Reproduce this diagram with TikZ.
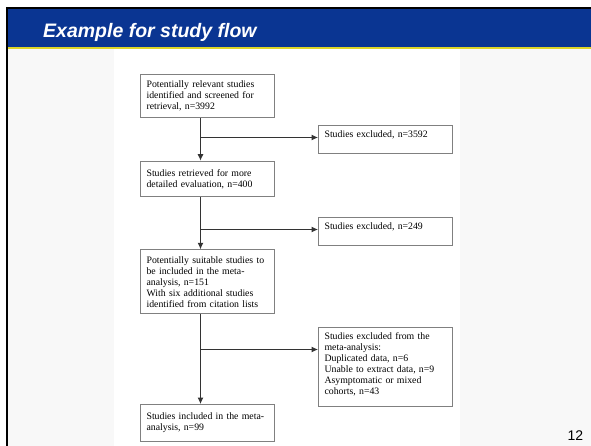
\documentclass[tikz,border=0pt]{standalone}
\usepackage{fontspec}
\setmainfont{Liberation Serif}
\newfontfamily\slidefont{Liberation Sans}
\usepackage{xcolor}
\usetikzlibrary{arrows.meta, positioning}

\definecolor{slideblue}{HTML}{0A3592}
\definecolor{slideyellow}{HTML}{DED628}
\definecolor{slidegrey}{HTML}{F8F8F8}

\begin{document}
\begin{tikzpicture}[
            x=1pt, y=-1pt,
            box/.style={rectangle, draw=black!50, line width=1.1pt, anchor=north west, text width=122pt, align=left, inner xsep=6pt, inner ysep=5pt, minimum width=134pt, text=black, font=\fontsize{9.8}{11}\selectfont},
            exbox/.style={box, text depth=11pt, minimum height=28pt},
            arrow/.style={-{Latex[length=6.5pt,width=6pt]}, line width=1pt, draw=black!80}
        ]
            \useasboundingbox (0,0) rectangle (591,446);
            % slide frame
            \fill[slidegrey]   (8,49)    rectangle (591,446);
            \fill[white]       (114,49)  rectangle (460,446);
            \fill[slideblue]   (8,8.5)   rectangle (591,47.3);
            \fill[slideyellow] (8,47.3)  rectangle (591,49.5);
            \fill[black]       (6,7.3)   rectangle (591,9);
            \fill[black]       (6,7.3)   rectangle (8.3,446);
            \node[anchor=base west, inner sep=0, text=white, font=\slidefont\bfseries\itshape\fontsize{19.5}{22}\selectfont] (title) at (43,37.7) {Example for study flow};
            \node[anchor=base east, inner sep=0, font=\slidefont\fontsize{14}{16}\selectfont] (page) at (583.3,440.7) {12};

            % flow boxes
            \node[box, minimum height=42.7pt] (ident)   at (140,74)    {Potentially relevant studies\\identified and screened for\\retrieval, n=3992};
            \node[box, minimum height=35.3pt] (retr)    at (140,160.7) {Studies retrieved for more\\detailed evaluation, n=400};
            \node[box, minimum height=64pt]   (suit)    at (140,249.3) {Potentially suitable studies to\\be included in the meta-\\analysis, n=151\\With six additional studies\\identified from citation lists};
            \node[box, minimum height=36.7pt] (incl)    at (140,404)   {Studies included in the meta-\\analysis, n=99};
            \node[exbox] (excla) at (318,125)   {Studies excluded, n=3592};
            \node[exbox] (exclb) at (318,216.7) {Studies excluded, n=249};
            \node[box, text depth=62pt, minimum height=79pt] (exclc) at (318,327) {Studies excluded from the\\meta-analysis:\\Duplicated data, n=6\\Unable to extract data, n=9\\Asymptomatic or mixed\\cohorts, n=43};

            % trunk and branches
            \coordinate (ja) at (200.5,137.5);
            \coordinate (jb) at (200.5,229.5);
            \coordinate (jc) at (200.5,349.5);

            \draw[arrow] (ident.south -| ja) -- (retr.north -| ja);
            \draw[arrow] (retr.south -| jb)  -- (suit.north -| jb);
            \draw[arrow] (suit.south -| jc)  -- (incl.north -| jc);
            \draw[arrow] (ja) -- (ja -| excla.west);
            \draw[arrow] (jb) -- (jb -| exclb.west);
            \draw[arrow] (jc) -- (jc -| exclc.west);
        \end{tikzpicture}
\end{document}
